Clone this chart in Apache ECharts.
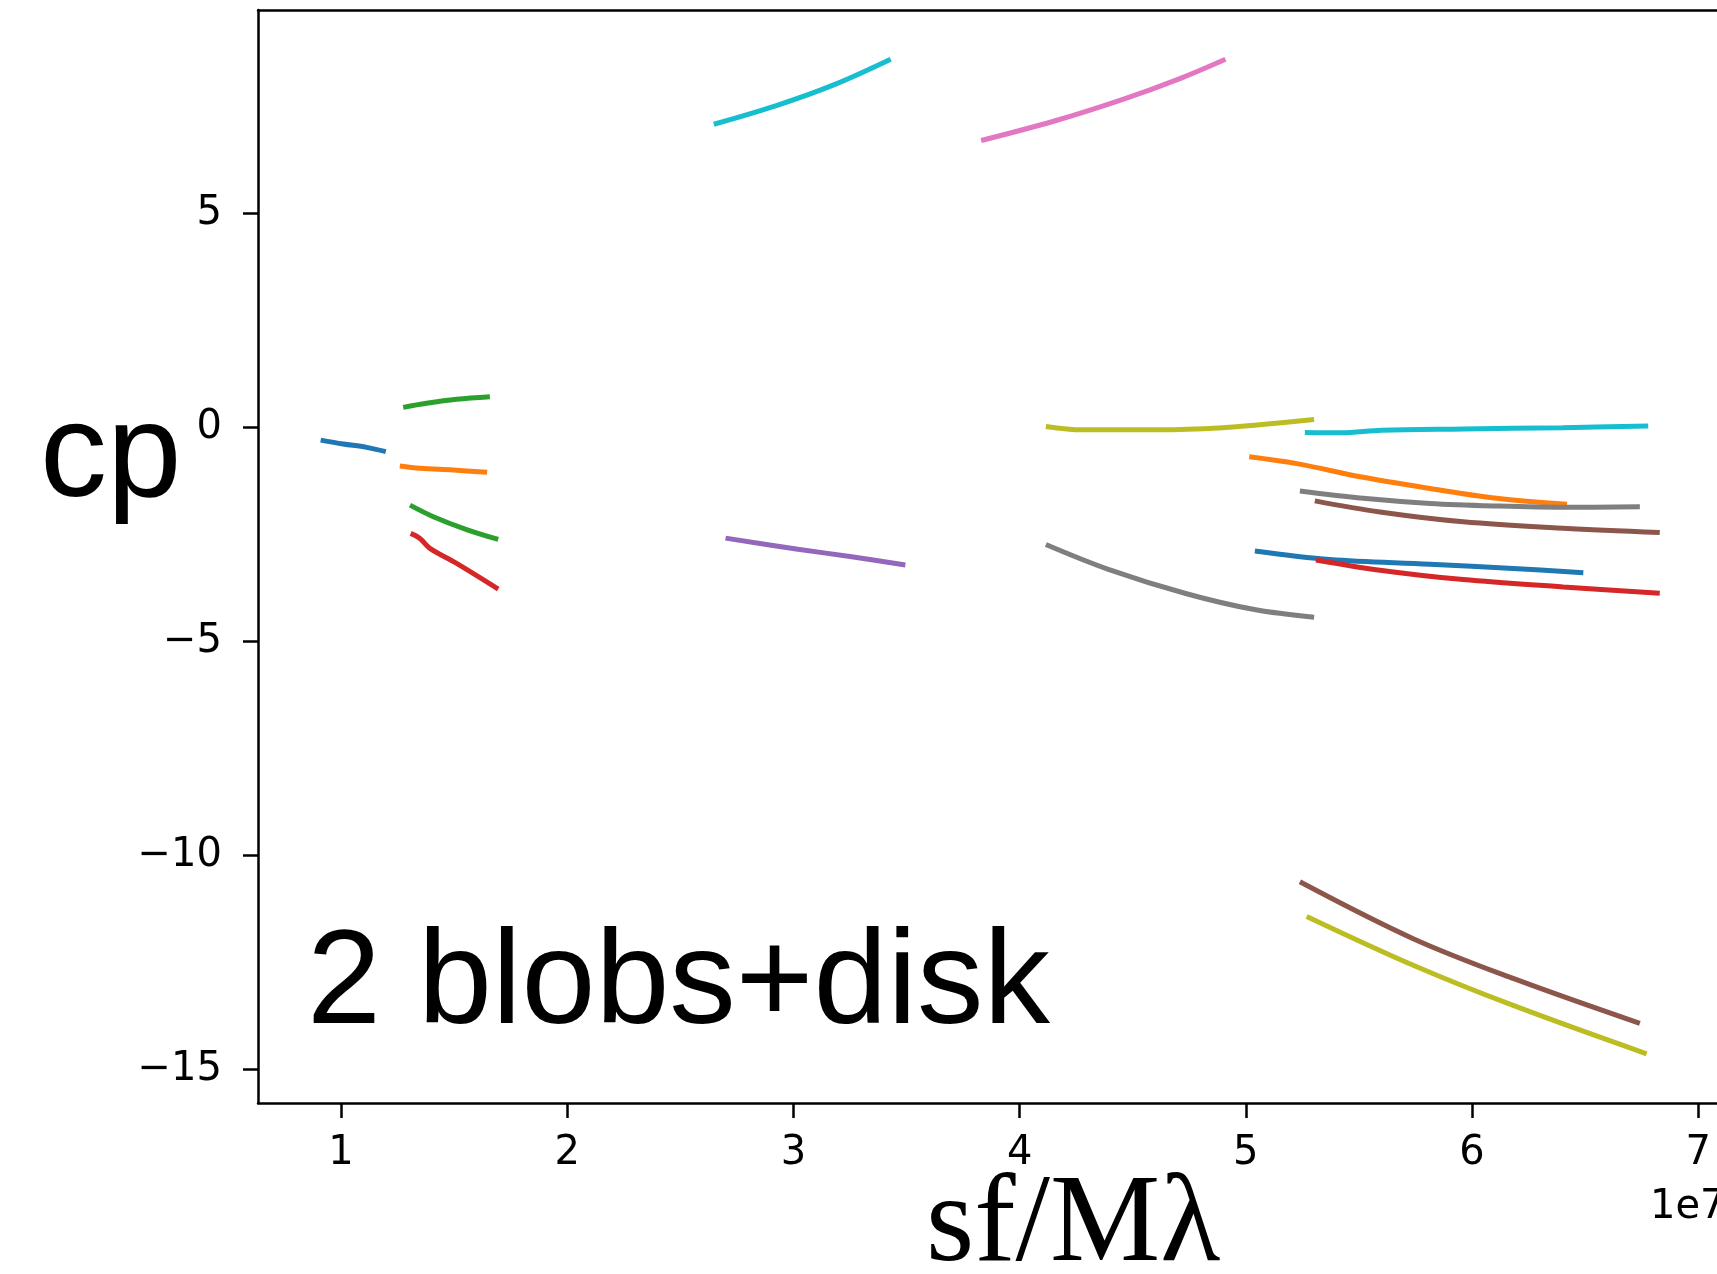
<!DOCTYPE html>
<html>
<head>
<meta charset="utf-8">
<script src="https://cdn.jsdelivr.net/npm/echarts@6/dist/echarts.min.js"></script>
<style>
html,body{margin:0;padding:0;background:#fff;}
#chart{width:1717px;height:1274px;}
</style>
</head>
<body>
<div id="chart"></div>
<script>
// tick labels (x in units of 1e7)
const xTicks = [1, 2, 3, 4, 5, 6, 7];
const yTicks = [-15, -10, -5, 0, 5];

// segments: x values (×1e7) and cp values
const s01x = [0.910, 1.010, 1.113, 1.198];
const s01y = [-0.30, -0.39, -0.47, -0.57];
const s02x = [1.275, 1.378, 1.511, 1.658];
const s02y = [0.465, 0.559, 0.652, 0.713];
const s03x = [1.260, 1.349, 1.496, 1.646];
const s03y = [-0.907, -0.96, -1.00, -1.054];
const s04x = [1.305, 1.408, 1.555, 1.695];
const s04y = [-1.82, -2.09, -2.39, -2.62];
const s05x = [1.308, 1.349, 1.393, 1.511, 1.695];
const s05y = [-2.48, -2.60, -2.83, -3.18, -3.78];
const s06x = [2.648, 2.921, 3.178, 3.43];
const s06y = [7.08, 7.51, 8.00, 8.60];
const s07x = [2.700, 3.020, 3.25, 3.495];
const s07y = [-2.59, -2.85, -3.02, -3.22];
const s08x = [3.83, 4.15, 4.45, 4.70, 4.91];
const s08y = [6.70, 7.15, 7.65, 8.13, 8.60];
const s09x = [4.116, 4.277, 4.623, 4.899, 5.083, 5.302];
const s09y = [0.02, -0.06, -0.06, -0.01, 0.07, 0.18];
const s10x = [4.116, 4.392, 4.738, 5.038, 5.302];
const s10y = [-2.74, -3.32, -3.89, -4.26, -4.44];
const s11x = [5.261, 5.42, 5.60, 5.96, 6.40, 6.779];
const s11y = [-0.12, -0.13, -0.07, -0.04, -0.01, 0.03];
const s12x = [5.015, 5.225, 5.519, 5.814, 6.109, 6.42];
const s12y = [-0.69, -0.85, -1.17, -1.43, -1.66, -1.80];
const s13x = [5.239, 5.519, 5.814, 6.109, 6.403, 6.742];
const s13y = [-1.49, -1.66, -1.78, -1.84, -1.87, -1.86];
const s14x = [5.305, 5.593, 5.961, 6.403, 6.830];
const s14y = [-1.72, -1.98, -2.21, -2.36, -2.46];
const s15x = [5.040, 5.372, 5.814, 6.182, 6.492];
const s15y = [-2.89, -3.09, -3.20, -3.30, -3.40];
const s16x = [5.310, 5.593, 5.961, 6.403, 6.830];
const s16y = [-3.10, -3.34, -3.56, -3.73, -3.88];
const s17x = [5.239, 5.740, 6.182, 6.742];
const s17y = [-10.62, -11.95, -12.88, -13.93];
const s18x = [5.269, 5.740, 6.182, 6.772];
const s18y = [-11.43, -12.57, -13.51, -14.64];

const C = {
  blue: '#1f77b4', orange: '#ff7f0e', green: '#2ca02c', red: '#d62728',
  purple: '#9467bd', brown: '#8c564b', pink: '#e377c2', gray: '#7f7f7f',
  olive: '#bcbd22', cyan: '#17becf'
};

const segments = [
  [s01x, s01y, C.blue], [s02x, s02y, C.green], [s03x, s03y, C.orange],
  [s04x, s04y, C.green], [s05x, s05y, C.red], [s06x, s06y, C.cyan],
  [s07x, s07y, C.purple], [s08x, s08y, C.pink], [s09x, s09y, C.olive],
  [s10x, s10y, C.gray], [s11x, s11y, C.cyan], [s12x, s12y, C.orange],
  [s14x, s14y, C.brown], [s13x, s13y, C.gray], [s15x, s15y, C.blue],
  [s16x, s16y, C.red], [s17x, s17y, C.brown], [s18x, s18y, C.olive]
];

const series = segments.map(function (s, i) {
  return {
    type: 'line',
    name: 'seg' + (i + 1),
    data: s[0].map(function (x, j) { return [x, s[1][j]]; }),
    showSymbol: false,
    symbol: 'none',
    smooth: 0.35,
    lineStyle: { color: s[2], width: 5, cap: 'butt' },
    z: 2 + i,
    silent: true
  };
});

const minus = function (v) { return v < 0 ? '\u2212' + Math.abs(v) : String(v); };
const axisCol = '#000';
const tickFont = { fontFamily: 'DejaVu Sans', fontSize: 40, color: '#000' };

const chart = echarts.init(document.getElementById('chart'), null, { renderer: 'canvas' });
chart.setOption({
  animation: false,
  backgroundColor: '#fff',
  grid: { left: 258, right: 0, top: 10, bottom: 171, containLabel: false },
  xAxis: [{
    type: 'value', min: 0.633, max: 7.083, position: 'bottom',
    splitLine: { show: false },
    axisLine: { show: true, onZero: false, lineStyle: { color: axisCol, width: 2.5 } },
    axisTick: { show: true, length: 15, customValues: xTicks, lineStyle: { color: axisCol, width: 2.5 } },
    axisLabel: Object.assign({ customValues: xTicks, margin: 31, formatter: minus }, tickFont)
  }, {
    type: 'value', min: 0.633, max: 7.083, position: 'top',
    splitLine: { show: false },
    axisLine: { show: true, onZero: false, lineStyle: { color: axisCol, width: 2.5 } },
    axisTick: { show: false }, axisLabel: { show: false }
  }],
  yAxis: [{
    type: 'value', min: -15.79, max: 9.75,
    splitLine: { show: false },
    axisLine: { show: true, onZero: false, lineStyle: { color: axisCol, width: 2.5 } },
    axisTick: { show: true, length: 15, customValues: yTicks, lineStyle: { color: axisCol, width: 2.5 } },
    axisLabel: Object.assign({ customValues: yTicks, margin: 36, formatter: minus }, tickFont)
  }],
  series: series,
  graphic: [
    { type: 'text', left: 40, top: 392, silent: true,
      style: { text: 'cp', fontFamily: 'Liberation Sans', fontSize: 134, fill: '#000' } },
    { type: 'text', left: 307, top: 920, silent: true,
      style: { text: '2 blobs+disk', fontFamily: 'Liberation Sans', fontSize: 133, fill: '#000' } },
    { type: 'text', left: 926, top: 1165, silent: true,
      style: { text: 'sf/M\u03bb', fontFamily: 'Liberation Serif', fontSize: 124, fill: '#000' } },
    { type: 'text', left: 1650, top: 1188, silent: true,
      style: { text: '1e7', fontFamily: 'DejaVu Sans', fontSize: 40, fill: '#000' } }
  ]
});
</script>
</body>
</html>
